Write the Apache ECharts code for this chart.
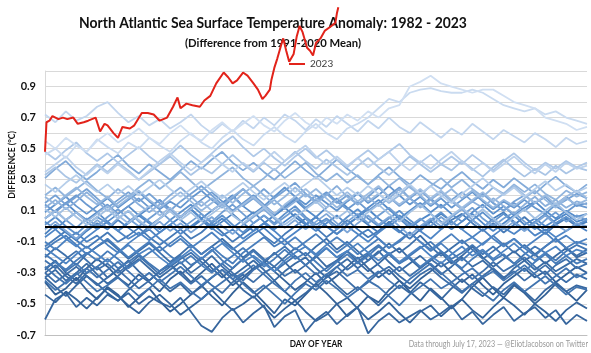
<!DOCTYPE html>
<html>
<head>
<meta charset="utf-8">
<script src="https://cdn.jsdelivr.net/npm/echarts@6/dist/echarts.min.js"></script>
<style>
html, body { margin: 0; padding: 0; background: #fff; }
#chart { width: 591px; height: 353px; }
</style>
</head>
<body>
<div id="chart"></div>
<script>
// day of year for the historical curves (weekly samples)
const days = [1, 8, 15, 22, 29, 36, 43, 50, 57, 64, 71, 78, 85, 92, 99, 106, 113, 120, 127, 134,
    141, 148, 155, 162, 169, 176, 183, 190, 197, 204, 211, 218, 225, 232, 239, 246, 253, 260, 267, 274,
    281, 288, 295, 302, 309, 316, 323, 330, 337, 344, 351, 358, 365]

const years = [1982, 1983, 1984, 1985, 1986, 1987, 1988, 1989, 1990, 1991, 1992, 1993, 1994, 1995,
    1996, 1997, 1998, 1999, 2000, 2001, 2002, 2003, 2004, 2005, 2006, 2007, 2008, 2009, 2010, 2011,
    2012, 2013, 2014, 2015, 2016, 2017, 2018, 2019, 2020, 2021, 2022]

// anomaly (°C) per year, one row per year, same order as years
const anomalies = [
    [-0.36,-0.44,-0.40,-0.33,-0.41,-0.47,-0.39,-0.44,-0.52,-0.46,-0.40,-0.48,-0.55,-0.50,-0.44,-0.38,-0.45,-0.51,-0.43,-0.36,-0.42,-0.49,-0.56,-0.47,-0.51,-0.44,-0.37,-0.43,-0.50,-0.58,-0.52,-0.45,-0.49,-0.41,-0.35,-0.42,-0.48,-0.40,-0.46,-0.53,-0.47,-0.39,-0.33,-0.40,-0.46,-0.38,-0.43,-0.50,-0.44,-0.37,-0.42,-0.48,-0.41],
    [-0.28,-0.22,-0.30,-0.35,-0.27,-0.21,-0.26,-0.33,-0.38,-0.31,-0.36,-0.42,-0.34,-0.29,-0.36,-0.30,-0.24,-0.31,-0.38,-0.33,-0.27,-0.23,-0.29,-0.35,-0.41,-0.36,-0.30,-0.37,-0.32,-0.26,-0.20,-0.27,-0.33,-0.28,-0.35,-0.40,-0.34,-0.29,-0.23,-0.30,-0.36,-0.31,-0.38,-0.44,-0.37,-0.32,-0.27,-0.33,-0.29,-0.36,-0.31,-0.26,-0.30],
    [-0.44,-0.49,-0.42,-0.47,-0.53,-0.46,-0.40,-0.45,-0.51,-0.56,-0.49,-0.44,-0.50,-0.57,-0.52,-0.47,-0.41,-0.48,-0.54,-0.50,-0.45,-0.52,-0.59,-0.53,-0.48,-0.55,-0.61,-0.57,-0.50,-0.46,-0.53,-0.60,-0.55,-0.49,-0.56,-0.62,-0.55,-0.51,-0.58,-0.52,-0.47,-0.54,-0.59,-0.52,-0.46,-0.51,-0.57,-0.50,-0.55,-0.61,-0.54,-0.49,-0.53],
    [-0.60,-0.47,-0.43,-0.52,-0.46,-0.51,-0.44,-0.48,-0.43,-0.50,-0.45,-0.49,-0.52,-0.46,-0.55,-0.64,-0.68,-0.59,-0.53,-0.62,-0.56,-0.51,-0.65,-0.58,-0.54,-0.68,-0.60,-0.55,-0.63,-0.57,-0.52,-0.69,-0.61,-0.56,-0.62,-0.58,-0.54,-0.60,-0.56,-0.51,-0.60,-0.55,-0.63,-0.57,-0.52,-0.61,-0.56,-0.52,-0.59,-0.54,-0.63,-0.57,-0.61],
    [-0.33,-0.39,-0.45,-0.38,-0.32,-0.37,-0.43,-0.48,-0.41,-0.35,-0.30,-0.36,-0.42,-0.37,-0.44,-0.39,-0.33,-0.28,-0.34,-0.41,-0.46,-0.40,-0.35,-0.42,-0.48,-0.43,-0.37,-0.31,-0.38,-0.44,-0.39,-0.45,-0.51,-0.44,-0.38,-0.43,-0.36,-0.41,-0.47,-0.40,-0.34,-0.40,-0.45,-0.39,-0.44,-0.37,-0.42,-0.48,-0.41,-0.36,-0.42,-0.38,-0.40],
    [-0.30,-0.25,-0.32,-0.37,-0.30,-0.26,-0.33,-0.28,-0.22,-0.29,-0.35,-0.29,-0.24,-0.31,-0.26,-0.20,-0.27,-0.33,-0.27,-0.21,-0.28,-0.24,-0.17,-0.23,-0.30,-0.25,-0.19,-0.26,-0.22,-0.16,-0.23,-0.29,-0.24,-0.18,-0.14,-0.21,-0.27,-0.22,-0.17,-0.24,-0.19,-0.13,-0.20,-0.26,-0.21,-0.16,-0.22,-0.18,-0.24,-0.19,-0.14,-0.20,-0.17],
    [-0.33,-0.28,-0.35,-0.30,-0.24,-0.31,-0.37,-0.32,-0.26,-0.21,-0.27,-0.33,-0.28,-0.23,-0.30,-0.25,-0.19,-0.26,-0.32,-0.27,-0.22,-0.28,-0.35,-0.29,-0.24,-0.20,-0.27,-0.33,-0.26,-0.21,-0.27,-0.22,-0.16,-0.23,-0.29,-0.24,-0.19,-0.25,-0.31,-0.26,-0.20,-0.26,-0.22,-0.28,-0.34,-0.27,-0.22,-0.28,-0.23,-0.29,-0.25,-0.21,-0.24],
    [-0.30,-0.36,-0.31,-0.26,-0.32,-0.38,-0.33,-0.28,-0.34,-0.40,-0.35,-0.29,-0.25,-0.31,-0.37,-0.32,-0.38,-0.43,-0.36,-0.31,-0.36,-0.30,-0.26,-0.32,-0.28,-0.34,-0.39,-0.33,-0.29,-0.35,-0.41,-0.36,-0.30,-0.26,-0.32,-0.37,-0.31,-0.27,-0.33,-0.38,-0.43,-0.37,-0.32,-0.27,-0.33,-0.29,-0.35,-0.30,-0.25,-0.31,-0.36,-0.31,-0.34],
    [-0.20,-0.14,-0.19,-0.25,-0.18,-0.13,-0.09,-0.15,-0.21,-0.16,-0.11,-0.17,-0.23,-0.18,-0.12,-0.18,-0.13,-0.08,-0.14,-0.20,-0.15,-0.21,-0.26,-0.20,-0.14,-0.19,-0.13,-0.08,-0.15,-0.10,-0.16,-0.22,-0.17,-0.11,-0.17,-0.12,-0.06,-0.13,-0.19,-0.14,-0.09,-0.15,-0.21,-0.16,-0.11,-0.17,-0.12,-0.18,-0.13,-0.08,-0.14,-0.19,-0.15],
    [-0.22,-0.27,-0.21,-0.16,-0.22,-0.28,-0.24,-0.30,-0.25,-0.19,-0.25,-0.31,-0.26,-0.21,-0.17,-0.23,-0.29,-0.24,-0.30,-0.35,-0.28,-0.23,-0.29,-0.24,-0.19,-0.25,-0.31,-0.27,-0.22,-0.28,-0.23,-0.18,-0.25,-0.31,-0.26,-0.32,-0.27,-0.21,-0.26,-0.22,-0.28,-0.34,-0.29,-0.23,-0.29,-0.25,-0.20,-0.26,-0.31,-0.25,-0.21,-0.27,-0.24],
    [-0.35,-0.41,-0.36,-0.30,-0.36,-0.42,-0.38,-0.33,-0.39,-0.45,-0.40,-0.34,-0.40,-0.36,-0.42,-0.47,-0.41,-0.36,-0.31,-0.37,-0.43,-0.38,-0.44,-0.50,-0.43,-0.37,-0.41,-0.35,-0.40,-0.46,-0.41,-0.35,-0.39,-0.45,-0.51,-0.44,-0.39,-0.34,-0.40,-0.36,-0.42,-0.37,-0.43,-0.48,-0.41,-0.36,-0.42,-0.37,-0.32,-0.38,-0.44,-0.39,-0.41],
    [-0.26,-0.32,-0.37,-0.31,-0.27,-0.33,-0.28,-0.23,-0.29,-0.35,-0.30,-0.36,-0.31,-0.26,-0.32,-0.38,-0.33,-0.28,-0.34,-0.30,-0.25,-0.31,-0.37,-0.42,-0.35,-0.30,-0.36,-0.31,-0.26,-0.32,-0.28,-0.34,-0.29,-0.35,-0.40,-0.34,-0.29,-0.24,-0.30,-0.36,-0.31,-0.27,-0.33,-0.29,-0.35,-0.30,-0.25,-0.31,-0.37,-0.32,-0.27,-0.33,-0.30],
    [-0.27,-0.23,-0.29,-0.24,-0.30,-0.26,-0.21,-0.27,-0.23,-0.18,-0.24,-0.29,-0.24,-0.19,-0.25,-0.21,-0.15,-0.22,-0.27,-0.21,-0.16,-0.22,-0.18,-0.13,-0.19,-0.25,-0.20,-0.14,-0.20,-0.16,-0.21,-0.17,-0.12,-0.18,-0.24,-0.19,-0.14,-0.10,-0.16,-0.21,-0.17,-0.12,-0.18,-0.13,-0.19,-0.24,-0.18,-0.13,-0.17,-0.22,-0.16,-0.12,-0.15],
    [-0.13,-0.08,-0.03,-0.09,-0.14,-0.09,-0.04,-0.10,-0.06,-0.01,-0.07,-0.12,-0.07,-0.02,-0.08,-0.04,0.02,-0.04,-0.10,-0.05,0.00,-0.06,-0.11,-0.05,0.00,0.05,-0.01,-0.07,-0.02,0.04,-0.02,-0.07,-0.03,0.03,-0.03,-0.08,-0.02,0.03,-0.02,0.04,0.08,0.02,-0.03,0.02,-0.04,0.01,0.06,0.00,-0.05,0.01,0.05,0.00,0.03],
    [-0.18,-0.23,-0.28,-0.22,-0.17,-0.22,-0.16,-0.21,-0.27,-0.22,-0.17,-0.13,-0.19,-0.24,-0.19,-0.25,-0.30,-0.24,-0.19,-0.14,-0.20,-0.26,-0.21,-0.15,-0.21,-0.17,-0.23,-0.29,-0.23,-0.18,-0.24,-0.19,-0.13,-0.18,-0.24,-0.20,-0.26,-0.21,-0.16,-0.22,-0.27,-0.21,-0.16,-0.22,-0.18,-0.24,-0.29,-0.23,-0.18,-0.24,-0.19,-0.24,-0.21],
    [-0.15,-0.10,-0.06,-0.12,-0.18,-0.13,-0.08,-0.14,-0.20,-0.15,-0.10,-0.16,-0.11,-0.06,-0.12,-0.18,-0.13,-0.19,-0.24,-0.17,-0.12,-0.07,-0.13,-0.09,-0.15,-0.10,-0.05,-0.11,-0.17,-0.12,-0.18,-0.13,-0.08,-0.14,-0.10,-0.04,-0.10,-0.16,-0.11,-0.17,-0.22,-0.16,-0.11,-0.06,-0.12,-0.08,-0.14,-0.19,-0.13,-0.08,-0.14,-0.10,-0.12],
    [-0.05,0.01,-0.04,-0.09,-0.03,0.02,-0.02,0.04,-0.01,-0.06,0.00,0.05,0.10,0.04,-0.01,0.04,-0.02,0.03,0.08,0.02,-0.03,0.02,0.07,0.12,0.06,0.01,0.06,0.00,-0.05,0.01,0.06,0.01,-0.04,0.02,0.07,0.02,-0.03,0.03,0.08,0.03,-0.02,0.04,-0.01,0.05,0.09,0.03,-0.02,0.03,-0.03,0.02,0.06,0.01,0.03],
    [-0.10,-0.15,-0.09,-0.04,-0.10,-0.06,-0.12,-0.17,-0.11,-0.06,-0.02,-0.08,-0.13,-0.08,-0.14,-0.09,-0.04,-0.10,-0.15,-0.10,-0.05,-0.01,-0.07,-0.12,-0.07,-0.13,-0.18,-0.12,-0.07,-0.12,-0.06,-0.02,-0.08,-0.14,-0.09,-0.04,-0.10,-0.15,-0.10,-0.05,-0.11,-0.07,-0.02,-0.08,-0.13,-0.08,-0.14,-0.09,-0.04,-0.10,-0.06,-0.11,-0.08],
    [-0.14,-0.19,-0.24,-0.18,-0.13,-0.18,-0.23,-0.17,-0.12,-0.18,-0.14,-0.20,-0.25,-0.20,-0.15,-0.21,-0.16,-0.11,-0.17,-0.23,-0.19,-0.24,-0.29,-0.22,-0.17,-0.13,-0.19,-0.14,-0.20,-0.16,-0.11,-0.17,-0.22,-0.17,-0.23,-0.18,-0.13,-0.19,-0.24,-0.18,-0.13,-0.19,-0.15,-0.21,-0.16,-0.11,-0.17,-0.22,-0.17,-0.13,-0.19,-0.15,-0.17],
    [-0.07,-0.02,-0.08,-0.13,-0.07,-0.02,0.03,-0.03,-0.08,-0.04,-0.09,-0.04,0.01,-0.05,0.00,0.05,-0.01,-0.06,-0.02,-0.08,-0.03,0.02,-0.03,-0.09,-0.04,0.01,0.06,0.00,-0.05,0.00,-0.05,-0.10,-0.04,0.01,-0.04,0.02,-0.03,-0.08,-0.02,0.03,-0.02,-0.07,-0.12,-0.06,-0.01,-0.05,0.00,-0.06,-0.02,-0.07,-0.03,0.01,-0.03],
    [0.03,-0.02,0.04,0.09,0.03,-0.02,0.03,-0.03,0.02,0.07,0.02,-0.04,0.01,0.06,0.11,0.05,0.00,0.05,-0.01,0.04,0.09,0.03,-0.02,0.03,0.08,0.02,-0.03,0.02,0.07,0.01,0.06,0.11,0.05,0.00,0.05,-0.01,0.04,0.08,0.03,-0.02,0.03,0.08,0.02,-0.03,0.02,0.07,0.01,0.05,0.00,0.04,0.08,0.03,0.05],
    [0.05,0.10,0.15,0.09,0.04,0.09,0.03,0.08,0.13,0.07,0.12,0.17,0.11,0.06,0.11,0.05,0.10,0.15,0.20,0.13,0.08,0.13,0.07,0.12,0.17,0.11,0.06,0.12,0.18,0.12,0.07,0.12,0.17,0.11,0.05,0.10,0.15,0.09,0.14,0.08,0.03,0.09,0.14,0.08,0.13,0.07,0.12,0.16,0.10,0.05,0.10,0.06,0.08],
    [0.01,0.06,0.00,-0.05,0.01,0.06,0.02,-0.03,0.03,0.08,0.03,-0.02,0.04,0.09,0.14,0.08,0.02,0.07,0.01,-0.04,0.02,0.07,0.02,0.08,0.13,0.06,0.01,0.05,0.00,0.06,0.11,0.05,0.00,0.05,0.10,0.04,-0.01,0.04,0.09,0.03,-0.02,0.04,0.09,0.03,0.08,0.02,-0.03,0.03,0.08,0.02,0.06,0.01,0.04],
    [0.09,0.14,0.19,0.13,0.08,0.13,0.18,0.12,0.17,0.22,0.16,0.11,0.16,0.12,0.18,0.23,0.17,0.12,0.18,0.24,0.18,0.13,0.19,0.25,0.19,0.14,0.20,0.15,0.10,0.16,0.21,0.15,0.20,0.26,0.20,0.14,0.19,0.13,0.18,0.12,0.17,0.22,0.16,0.11,0.16,0.12,0.17,0.12,0.08,0.14,0.19,0.13,0.15],
    [0.14,0.09,0.15,0.20,0.14,0.09,0.14,0.08,0.13,0.18,0.12,0.17,0.11,0.06,0.12,0.17,0.22,0.16,0.10,0.15,0.20,0.14,0.08,0.13,0.18,0.12,0.17,0.22,0.16,0.11,0.16,0.10,0.15,0.20,0.25,0.18,0.13,0.18,0.12,0.17,0.11,0.16,0.21,0.15,0.10,0.15,0.10,0.15,0.19,0.13,0.09,0.14,0.12],
    [0.05,0.10,0.04,-0.01,0.05,0.00,0.06,0.11,0.05,0.00,0.05,0.10,0.04,-0.02,0.03,0.08,0.03,0.09,0.14,0.08,0.02,0.07,0.01,0.06,0.11,0.05,-0.01,0.04,-0.02,0.03,0.08,0.02,0.07,0.12,0.06,0.00,0.05,0.00,0.06,0.01,0.07,0.12,0.05,0.00,0.05,0.09,0.03,-0.02,0.04,0.09,0.03,0.07,0.04],
    [0.15,0.20,0.14,0.19,0.24,0.18,0.12,0.17,0.22,0.16,0.21,0.15,0.10,0.16,0.21,0.26,0.20,0.14,0.19,0.13,0.18,0.24,0.18,0.23,0.28,0.21,0.16,0.21,0.15,0.20,0.14,0.19,0.25,0.19,0.13,0.18,0.23,0.17,0.12,0.17,0.22,0.16,0.21,0.15,0.10,0.16,0.20,0.15,0.19,0.13,0.17,0.21,0.18],
    [-0.02,0.03,-0.03,-0.08,-0.02,0.04,-0.01,0.05,0.10,0.03,-0.02,0.03,-0.03,0.02,-0.04,0.01,0.06,0.00,-0.05,0.01,0.06,0.11,0.05,-0.01,0.04,-0.02,0.03,0.08,0.02,-0.04,0.02,0.07,0.01,0.06,0.00,-0.06,0.00,0.05,0.00,0.06,0.11,0.04,-0.01,0.04,-0.02,0.03,-0.03,0.02,0.07,0.01,-0.03,0.02,0.00],
    [0.31,0.37,0.42,0.35,0.30,0.35,0.41,0.46,0.39,0.34,0.40,0.35,0.30,0.36,0.42,0.37,0.43,0.48,0.41,0.36,0.41,0.35,0.30,0.36,0.42,0.36,0.31,0.37,0.43,0.37,0.32,0.27,0.33,0.38,0.32,0.27,0.33,0.28,0.24,0.30,0.35,0.29,0.24,0.30,0.25,0.31,0.26,0.21,0.27,0.32,0.26,0.22,0.27],
    [0.12,0.17,0.11,0.16,0.22,0.16,0.10,0.15,0.20,0.14,0.09,0.14,0.20,0.25,0.19,0.13,0.18,0.13,0.19,0.24,0.18,0.12,0.17,0.11,0.16,0.21,0.15,0.20,0.26,0.19,0.14,0.19,0.13,0.18,0.24,0.18,0.12,0.17,0.22,0.16,0.11,0.16,0.12,0.18,0.13,0.08,0.14,0.19,0.13,0.17,0.12,0.16,0.14],
    [0.20,0.25,0.19,0.24,0.29,0.23,0.18,0.24,0.19,0.25,0.30,0.24,0.29,0.35,0.29,0.23,0.28,0.33,0.38,0.31,0.26,0.31,0.37,0.31,0.36,0.41,0.34,0.29,0.34,0.28,0.33,0.27,0.32,0.26,0.31,0.25,0.20,0.26,0.31,0.25,0.30,0.24,0.19,0.25,0.21,0.27,0.22,0.27,0.21,0.17,0.23,0.19,0.22],
    [0.19,0.14,0.20,0.25,0.19,0.14,0.19,0.13,0.18,0.23,0.17,0.12,0.17,0.22,0.16,0.10,0.15,0.20,0.15,0.21,0.26,0.20,0.14,0.19,0.25,0.19,0.24,0.18,0.12,0.17,0.22,0.16,0.21,0.15,0.20,0.26,0.20,0.14,0.19,0.24,0.18,0.23,0.17,0.12,0.17,0.13,0.18,0.23,0.17,0.12,0.18,0.14,0.17],
    [0.05,0.10,0.04,0.09,0.03,0.08,0.13,0.07,0.02,0.08,0.13,0.07,0.12,0.06,0.11,0.16,0.10,0.15,0.09,0.14,0.19,0.13,0.08,0.14,0.19,0.24,0.18,0.12,0.17,0.22,0.16,0.21,0.26,0.19,0.14,0.19,0.24,0.18,0.23,0.17,0.12,0.17,0.22,0.16,0.21,0.26,0.20,0.15,0.20,0.14,0.19,0.23,0.18],
    [0.11,0.06,0.12,0.06,0.01,0.06,0.11,0.05,0.10,0.04,-0.01,0.05,0.10,0.04,0.09,0.03,0.08,0.13,0.07,0.02,0.07,0.12,0.06,0.01,0.06,0.11,0.16,0.10,0.05,0.10,0.04,0.09,0.14,0.08,0.03,0.09,0.14,0.08,0.02,0.07,0.12,0.06,0.11,0.05,0.00,0.06,0.11,0.05,0.10,0.15,0.09,0.04,0.08],
    [0.33,0.38,0.32,0.28,0.34,0.40,0.35,0.41,0.36,0.30,0.35,0.40,0.45,0.39,0.33,0.38,0.34,0.40,0.46,0.40,0.35,0.41,0.36,0.42,0.48,0.42,0.37,0.43,0.38,0.33,0.39,0.44,0.38,0.33,0.39,0.45,0.40,0.35,0.40,0.36,0.42,0.37,0.32,0.38,0.43,0.37,0.32,0.37,0.33,0.39,0.34,0.38,0.36],
    [0.48,0.43,0.49,0.54,0.47,0.42,0.47,0.41,0.46,0.51,0.45,0.40,0.46,0.52,0.46,0.41,0.47,0.53,0.58,0.51,0.45,0.50,0.44,0.39,0.45,0.50,0.44,0.49,0.43,0.38,0.44,0.49,0.43,0.48,0.53,0.46,0.41,0.46,0.40,0.45,0.40,0.46,0.41,0.36,0.42,0.47,0.41,0.36,0.41,0.37,0.42,0.38,0.41],
    [0.27,0.22,0.28,0.33,0.27,0.22,0.27,0.21,0.26,0.20,0.25,0.30,0.24,0.19,0.24,0.29,0.23,0.18,0.23,0.28,0.22,0.17,0.23,0.28,0.22,0.27,0.32,0.26,0.20,0.25,0.20,0.26,0.21,0.16,0.22,0.27,0.21,0.26,0.20,0.15,0.21,0.26,0.31,0.25,0.20,0.25,0.19,0.24,0.29,0.23,0.27,0.22,0.25],
    [0.35,0.40,0.45,0.38,0.33,0.39,0.34,0.40,0.35,0.30,0.36,0.42,0.47,0.41,0.36,0.41,0.46,0.40,0.35,0.41,0.36,0.42,0.48,0.42,0.47,0.52,0.45,0.40,0.45,0.39,0.44,0.38,0.43,0.48,0.41,0.36,0.42,0.37,0.43,0.48,0.42,0.36,0.41,0.35,0.40,0.45,0.39,0.34,0.40,0.35,0.41,0.37,0.39],
    [0.72,0.67,0.74,0.68,0.71,0.77,0.80,0.73,0.67,0.71,0.65,0.69,0.63,0.67,0.72,0.65,0.60,0.66,0.61,0.68,0.63,0.70,0.65,0.72,0.68,0.62,0.69,0.64,0.71,0.66,0.61,0.68,0.63,0.70,0.64,0.60,0.67,0.62,0.57,0.63,0.59,0.66,0.61,0.56,0.62,0.58,0.54,0.60,0.56,0.51,0.57,0.53,0.55],
    [0.46,0.50,0.44,0.52,0.48,0.56,0.51,0.47,0.54,0.50,0.57,0.52,0.48,0.55,0.60,0.54,0.50,0.57,0.62,0.56,0.52,0.59,0.64,0.58,0.54,0.61,0.66,0.60,0.56,0.63,0.66,0.70,0.76,0.82,0.80,0.86,0.88,0.89,0.87,0.86,0.86,0.88,0.86,0.82,0.78,0.76,0.74,0.76,0.72,0.74,0.70,0.68,0.66],
    [0.55,0.50,0.57,0.52,0.48,0.55,0.60,0.54,0.58,0.63,0.57,0.53,0.60,0.65,0.59,0.55,0.62,0.67,0.61,0.66,0.71,0.65,0.61,0.68,0.73,0.67,0.63,0.70,0.66,0.72,0.68,0.74,0.70,0.76,0.78,0.90,0.93,0.97,0.92,0.90,0.88,0.86,0.88,0.88,0.84,0.80,0.78,0.76,0.70,0.68,0.66,0.62,0.64]
]

// 2023, data through July 17
const days2023 = [1, 2, 4, 6, 10, 13, 16, 20, 23, 27, 30, 35, 38, 41, 43, 47, 50, 53, 58, 61,
    66, 70, 74, 78, 83, 87, 90, 92, 96, 100, 105, 108, 112, 116, 121, 124, 127, 130, 134, 137,
    141, 144, 147, 149, 152, 153, 155, 157, 160, 161, 163, 165, 168, 170, 172, 174, 177, 179, 181, 183,
    186, 189, 192, 196, 197, 198]
const values2023 = [0.48, 0.67, 0.68, 0.71, 0.69, 0.70, 0.69, 0.70, 0.66, 0.67, 0.68, 0.70, 0.61, 0.66, 0.65, 0.60, 0.57, 0.64, 0.63, 0.65,
    0.73, 0.73, 0.72, 0.68, 0.70, 0.77, 0.83, 0.76, 0.79, 0.78, 0.77, 0.81, 0.84, 0.92, 0.99, 0.96, 0.92, 0.94, 0.99, 0.97,
    0.92, 0.88, 0.82, 0.84, 0.88, 0.94, 1.02, 1.08, 1.18, 1.21, 1.13, 1.06, 1.11, 1.22, 1.29, 1.25, 1.15, 1.13, 1.10, 1.18,
    1.21, 1.26, 1.28, 1.31, 1.37, 1.41]

const yTickLabels = ['-0.7', '-0.5', '-0.3', '-0.1', '0.1', '0.3', '0.5', '0.7', '0.9']

const FONT = 'Lato, "Open Sans", sans-serif'
const darkBlue = [50, 96, 150]
const midBlue = [80, 136, 200]
const lightBlue = [208, 223, 242]

const mix = (a, b, t) => a.map((v, k) => Math.round(v + (b[k] - v) * t))
const yearColor = (i) => {
    const t = i / (years.length - 1)
    const c = t < 0.5 ? mix(darkBlue, midBlue, t * 2) : mix(midBlue, lightBlue, (t - 0.5) * 2)
    return 'rgb(' + c.join(',') + ')'
}

const series = years.map((yr, i) => ({
    name: String(yr),
    type: 'line',
    data: days.map((d, k) => [d, anomalies[i][k]]),
    symbol: 'none',
    silent: true,
    z: 2,
    lineStyle: { width: 1.8, color: yearColor(i) },
    itemStyle: { color: yearColor(i) }
}))

// zero reference line
series.push({
    name: 'zero',
    type: 'line',
    data: [],
    z: 3,
    markLine: {
        silent: true,
        symbol: 'none',
        label: { show: false },
        lineStyle: { color: '#000', width: 2, type: 'solid' },
        data: [{ yAxis: 0 }]
    }
})

series.push({
    name: '2023',
    type: 'line',
    data: days2023.map((d, k) => [d, values2023[k]]),
    symbol: 'none',
    clip: false,
    z: 10,
    lineStyle: { width: 2, color: '#E2231A' },
    itemStyle: { color: '#E2231A' }
})

const textEl = (x, y, text, size, weight, fill, align, scaleX, rotation) => ({
    type: 'text', x: x, y: y, scaleX: scaleX, rotation: rotation || 0,
    style: {
        text: text, fontFamily: FONT, fontSize: size, fontWeight: weight, fill: fill,
        align: align, verticalAlign: 'middle'
    }
})

const chart = echarts.init(document.getElementById('chart'))
chart.setOption({
    animation: false,
    grid: { left: 45, right: 4, top: 71, bottom: 18 },
    legend: {
        data: ['2023'],
        left: 289,
        top: 59,
        icon: 'rect',
        itemWidth: 16,
        itemHeight: 2,
        itemGap: 4,
        padding: 0,
        selectedMode: false,
        textStyle: { fontFamily: FONT, fontSize: 10, color: '#404040' }
    },
    graphic: [
        textEl(273, 23, 'North Atlantic Sea Surface Temperature Anomaly: 1982 - 2023', 16, 'bold', '#111', 'center', 0.87),
        textEl(273, 43, '(Difference from 1991-2020 Mean)', 12, 'bold', '#111', 'center', 0.94),
        textEl(12, 165, 'DIFFERENCE (°C)', 10, 'bold', '#111', 'center', 0.86, Math.PI / 2),
        textEl(316, 344, 'DAY OF YEAR', 10, 'bold', '#111', 'center', 0.82),
        textEl(588, 344, 'Data through July 17, 2023 \u2014 @EliotJacobson on Twitter', 9, 'normal', '#9a9a9a', 'right', 0.8)
    ],
    xAxis: {
        type: 'value',
        min: 1,
        max: 365,
        axisLabel: { show: false },
        axisTick: { show: false },
        splitLine: { show: false },
        axisLine: { show: true, onZero: false, lineStyle: { color: '#BFBFBF', width: 1 } }
    },
    yAxis: {
        type: 'value',
        min: -0.7,
        max: 1.0,
        interval: 0.1,
        axisTick: { show: false },
        axisLine: { show: true, lineStyle: { color: '#D9D9D9' } },
        splitLine: { lineStyle: { color: '#D9D9D9', width: 1 } },
        axisLabel: {
            margin: 9,
            fontFamily: FONT,
            fontSize: 11,
            fontWeight: 'bold',
            color: '#111',
            formatter: (v) => {
                const s = (Math.round(v * 10) / 10).toFixed(1)
                return yTickLabels.includes(s) ? s : ''
            }
        }
    },
    series: series
})
</script>
</body>
</html>
